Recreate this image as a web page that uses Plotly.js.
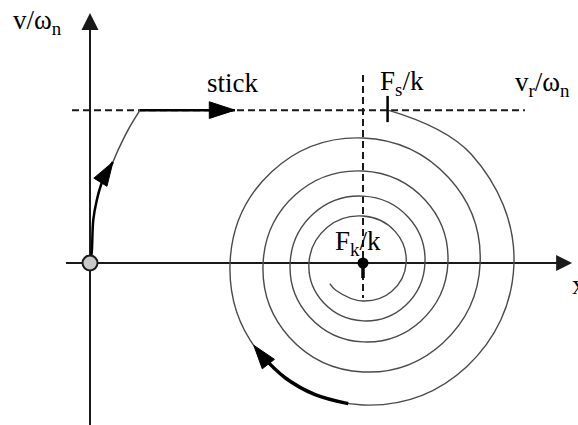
<!DOCTYPE html>
<html>
<head>
<meta charset="utf-8">
<script src="https://cdn.plot.ly/plotly-3.0.1.min.js"></script>
<style>
  html, body { margin: 0; padding: 0; background: #ffffff; }
  #chart { width: 578px; height: 425px; }
</style>
</head>
<body>
<div id="chart"></div>
<script>
// Phase plane (x, v/ωn) of a stick–slip oscillator, lengths in units of F_k/k.
const FK = 1.0;   // kinetic-friction equilibrium F_k/k
const FS = 1.09;  // break-away position F_s/k
const VR = 0.56;  // belt speed v_r/ωn

// start-up path from rest at the origin to the belt speed
const riseX = [0, 0.006, 0.012, 0.025, 0.043, 0.066, 0.084];
const riseY = [0, 0.036, 0.158, 0.231, 0.293, 0.341, 0.370];
const riseTopX = [0.084, 0.103, 0.139, 0.183];
const riseTopY = [0.370, 0.414, 0.487, 0.560];
// stick phase carried along v = v_r
const stickX = [0.183, 0.531];

// slip spiral about F_k/k: polar angle (deg, counter-clockwise from +x) and radius
const spiralTheta = [81, 45, 0, -45, -90, -135, -180, -225, -270, -315, -360,
  -405, -450, -495, -540, -585, -630, -675, -720, -765, -810, -855, -900,
  -945, -990, -1035, -1080, -1125, -1170, -1215, -1260, -1305, -1350, -1395,
  -1440, -1485, -1530, -1575, -1588];
const spiralR = [0.568, 0.562, 0.553, 0.537, 0.520, 0.504, 0.487, 0.473, 0.458,
  0.443, 0.429, 0.414, 0.399, 0.383, 0.366, 0.352, 0.337, 0.324, 0.311, 0.300,
  0.289, 0.278, 0.267, 0.256, 0.245, 0.236, 0.227, 0.220, 0.212, 0.205, 0.198,
  0.185, 0.172, 0.165, 0.158, 0.148, 0.139, 0.141, 0.143];

// heavy arc marking the sense of rotation on the outer turn
const arcTheta = [-96, -110, -124, -138];
const arcR = [0.518, 0.513, 0.508, 0.503];
const arcTipTheta = [-137, -143];
const arcTipR = [0.503, 0.501];

const rad = d => d * Math.PI / 180;
const polarX = (th, r) => th.map((t, i) => FK + r[i] * Math.cos(rad(t)));
const polarY = (th, r) => th.map((t, i) => r[i] * Math.sin(rad(t)));

const INK = '#1a1a1a';
const GREY = '#4a4a4a';
const DASH = '7px,4px';
const head = size => ({ symbol: 'arrow', size: [0, size], angleref: 'previous',
  color: '#000', opacity: 1, line: { color: '#000', width: 1 } });

const traces = [
  // axes
  { x: [0, 0], y: [-0.62, 0.87], mode: 'lines', line: { color: INK, width: 2 } },
  { x: [-0.088, 1.72], y: [0, 0], mode: 'lines', line: { color: INK, width: 2 } },
  // v = v_r and x = F_k/k guide lines
  { x: [-0.066, 1.593], y: [VR, VR], mode: 'lines', line: { color: INK, width: 2, dash: DASH } },
  { x: [FK, FK], y: [0.689, -0.128], mode: 'lines', line: { color: INK, width: 2, dash: DASH } },
  // slip spiral
  { x: polarX(spiralTheta, spiralR), y: polarY(spiralTheta, spiralR), mode: 'lines',
    line: { color: GREY, width: 1.4, shape: 'spline', smoothing: 1.15 } },
  // rotation arc
  { x: polarX(arcTheta, arcR), y: polarY(arcTheta, arcR), mode: 'lines',
    line: { color: '#000', width: 3.5, shape: 'spline' } },
  { x: polarX(arcTipTheta, arcTipR), y: polarY(arcTipTheta, arcTipR), mode: 'markers',
    marker: head(25) },
  // start-up path
  { x: riseTopX, y: riseTopY, mode: 'lines', line: { color: GREY, width: 1.5, shape: 'spline' } },
  { x: riseX, y: riseY, mode: 'lines', line: { color: '#000', width: 2.5, shape: 'spline' } },
  { x: riseX.slice(-2), y: riseY.slice(-2), mode: 'markers', marker: head(25) },
  // stick phase
  { x: stickX, y: [VR, VR], mode: 'lines', line: { color: '#000', width: 2.5 } },
  { x: stickX, y: [VR, VR], mode: 'markers', marker: head(27) },
  // break-away tick at F_s/k
  { x: [FS, FS], y: [0.612, 0.516], mode: 'lines', line: { color: '#000', width: 2.5 } },
  // equilibrium point F_k/k
  { x: [FK, FK], y: [0, -0.055], mode: 'lines', line: { color: '#000', width: 3.5 } },
  { x: [FK], y: [0], mode: 'markers', marker: { symbol: 'circle', size: 11, color: '#000' } },
  // rest point at the origin
  { x: [0], y: [0], mode: 'markers',
    marker: { symbol: 'circle', size: 15, color: '#c8c8c8', line: { color: INK, width: 2 } } }
];

const serif = { family: 'Liberation Serif, Times New Roman, serif', size: 27, color: '#000' };
const label = (x, y, text) => ({ x, y, xref: 'x', yref: 'y', text, showarrow: false,
  xanchor: 'left', yanchor: 'middle', font: serif });
const axisHead = (x, y, ax, ay, size) => ({ x, y, ax, ay, xref: 'x', yref: 'y',
  axref: 'x', ayref: 'y', text: '', showarrow: true, arrowhead: 2,
  arrowsize: size, arrowwidth: 2, arrowcolor: INK });

const layout = {
  width: 578, height: 425,
  margin: { l: 0, r: 0, t: 0, b: 0 },
  paper_bgcolor: '#ffffff', plot_bgcolor: '#ffffff',
  showlegend: false,
  xaxis: { visible: false, range: [-0.3297, 1.7875], fixedrange: true },
  yaxis: { visible: false, range: [-0.5934, 0.9634], fixedrange: true },
  annotations: [
    axisHead(0, 0.916, 0, 0.85, 1.7),
    axisHead(1.766, 0, 1.70, 0, 1.6),
    label(-0.288, 0.883, 'v/ω<sub>n</sub>'),
    label(0.422, 0.659, 'stick'),
    label(1.056, 0.659, 'F<sub>s</sub>/k'),
    label(1.55, 0.656, 'v<sub>r</sub>/ω<sub>n</sub>'),
    label(0.89, 0.073, 'F<sub>k</sub>/k'),
    label(1.76, -0.08, 'x')
  ]
};

Plotly.newPlot('chart', traces, layout, { staticPlot: true, displayModeBar: false });
</script>
</body>
</html>
